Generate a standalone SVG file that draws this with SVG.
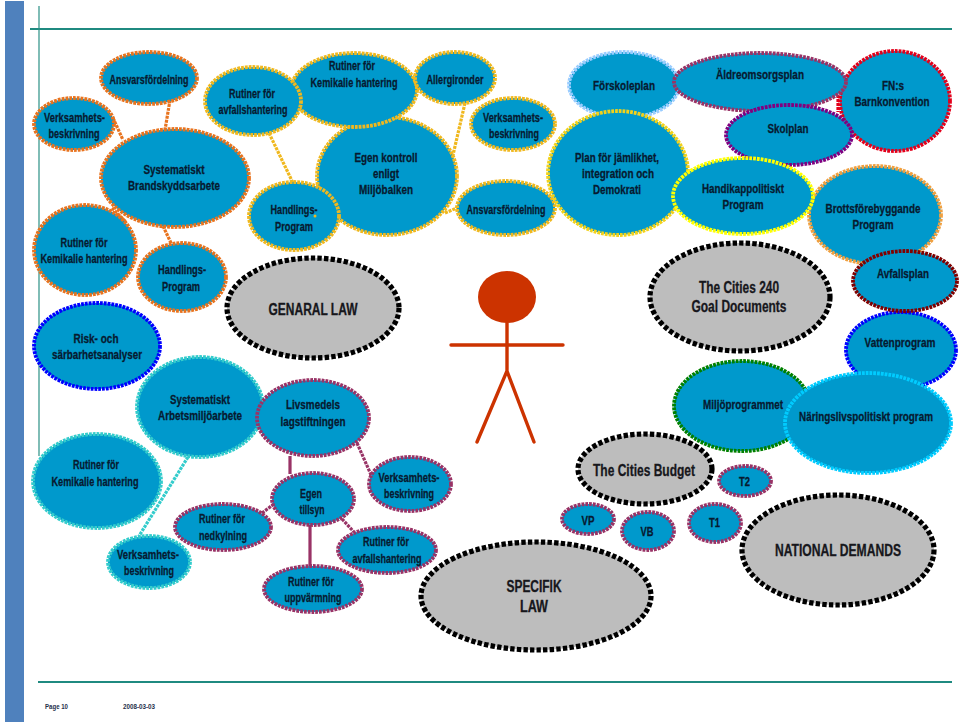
<svg xmlns="http://www.w3.org/2000/svg" width="960" height="724" viewBox="0 0 960 724">
<style>
text{font-family:"Liberation Sans",Arial,sans-serif;font-weight:bold;font-size:13px;fill:#071a30;text-anchor:middle;stroke:#071a30;stroke-width:.3}
.g text{fill:#17171c;stroke:#17171c;font-size:16px}
ellipse{fill:#0099cc;stroke-width:3.8;stroke-dasharray:2.8 1}
.or ellipse{stroke:#e8731e}.ye ellipse{stroke:#f0b81e}.te ellipse{stroke:#33cccc}.pu ellipse{stroke:#993366}
.g ellipse{fill:#bdbdbd;stroke:#000;stroke-width:5.2;stroke-dasharray:4.4 2.2}
#connectors line{stroke-width:3.2;stroke-dasharray:3 1}
.man{stroke:#cc3300;stroke-width:3.4;fill:none;stroke-linecap:round}
text.ft{font-size:6.5px;fill:#26304a;stroke:none}
</style>
<rect x="5" y="1" width="19" height="721" fill="#4f81bd"/>
<path d="M30 29H952M38 682H952" stroke="#1f8a80" stroke-width="2.2" fill="none"/>
<path d="M39 6V456" stroke="#2a9085" stroke-width="1.2" fill="none"/>
<g id="connectors">
<g stroke="#e8731e"><line x1="170" y1="100" x2="165" y2="130"/><line x1="113" y1="118" x2="123" y2="140"/><line x1="163" y1="226" x2="172" y2="245"/><line x1="112" y1="208" x2="126" y2="222"/></g>
<g stroke="#f0b81e"><line x1="269" y1="133" x2="293" y2="183"/><line x1="465" y1="103" x2="453" y2="155"/><line x1="445" y1="213" x2="459" y2="207"/></g>
<g stroke="#33cccc"><line x1="188" y1="457" x2="139" y2="536"/></g>
<g stroke="#993366"><line x1="290" y1="456" x2="290" y2="474" style="stroke-dasharray:none"/><line x1="357" y1="443" x2="372" y2="477"/><line x1="262" y1="513" x2="274" y2="504"/><line x1="342" y1="519" x2="354" y2="532"/><line x1="310" y1="525" x2="310" y2="567" style="stroke-dasharray:none"/></g>
<g stroke="#e3001b"><line x1="838" y1="95" x2="838" y2="112"/></g>
</g>
<g id="stickman" class="man"><ellipse cx="507" cy="297" rx="29" ry="26" style="fill:#cc3300;stroke:none"/><path d="M451 345H563M507 323V371L477 442M507 371L534 442"/></g>

<g class="or">
<g id="n-rutiner-kem1"><ellipse cx="85" cy="250" rx="51" ry="45"/><text x="84" y="247" textLength="47" lengthAdjust="spacingAndGlyphs">Rutiner för</text><text x="84" y="263" textLength="87" lengthAdjust="spacingAndGlyphs">Kemikalie hantering</text></g>
<g id="n-handl1"><ellipse cx="182" cy="277" rx="44" ry="34"/><text x="182" y="274" textLength="48" lengthAdjust="spacingAndGlyphs">Handlings-</text><text x="181" y="291" textLength="38" lengthAdjust="spacingAndGlyphs">Program</text></g>
<g id="n-ansvar1"><ellipse cx="149" cy="78" rx="48" ry="26"/><text x="149" y="84" textLength="79" lengthAdjust="spacingAndGlyphs">Ansvarsfördelning</text></g>
<g id="n-verks1"><ellipse cx="74" cy="124" rx="40" ry="26"/><text x="74.500" y="122" textLength="61" lengthAdjust="spacingAndGlyphs">Verksamhets-</text><text x="74" y="138" textLength="51" lengthAdjust="spacingAndGlyphs">beskrivning</text></g>
<g id="n-brand"><ellipse cx="175" cy="178" rx="74" ry="49"/><text x="174" y="174" textLength="61" lengthAdjust="spacingAndGlyphs">Systematiskt</text><text x="174" y="190" textLength="92" lengthAdjust="spacingAndGlyphs">Brandskyddsarbete</text></g>
</g>
<g class="ye">
<g id="n-egen"><ellipse cx="387" cy="176" rx="70" ry="59"/><text x="386" y="162" textLength="63" lengthAdjust="spacingAndGlyphs">Egen kontroll</text><text x="386" y="178" textLength="26" lengthAdjust="spacingAndGlyphs">enligt</text><text x="386" y="194" textLength="54" lengthAdjust="spacingAndGlyphs">Miljöbalken</text></g>
<g id="n-kem2"><ellipse cx="354" cy="90" rx="63" ry="37"/><text x="352" y="70" textLength="46" lengthAdjust="spacingAndGlyphs">Rutiner för</text><text x="354" y="87" textLength="87" lengthAdjust="spacingAndGlyphs">Kemikalie hantering</text></g>
<g id="n-avf2"><ellipse cx="253" cy="101" rx="48" ry="34"/><text x="252" y="98" textLength="46" lengthAdjust="spacingAndGlyphs">Rutiner för</text><text x="253" y="114" textLength="69" lengthAdjust="spacingAndGlyphs">avfallshantering</text></g>
<g id="n-allergi"><ellipse cx="455" cy="78" rx="40" ry="26"/><text x="455" y="84" textLength="57" lengthAdjust="spacingAndGlyphs">Allergironder</text></g>
<g id="n-handl2"><ellipse cx="294" cy="216" rx="45" ry="34"/><text x="294" y="214" textLength="47" lengthAdjust="spacingAndGlyphs">Handlings-</text><text x="294" y="231" textLength="38" lengthAdjust="spacingAndGlyphs">Program</text><circle cx="315" cy="216" r="1.500" fill="#f0b81e"/></g>
<g id="n-verks2"><ellipse cx="513" cy="124" rx="42" ry="26"/><text x="513" y="122" textLength="60" lengthAdjust="spacingAndGlyphs">Verksamhets-</text><text x="514" y="138" textLength="50" lengthAdjust="spacingAndGlyphs">beskrivning</text></g>
<g id="n-ansvar2"><ellipse cx="506" cy="208" rx="49" ry="27"/><text x="506" y="214" textLength="79" lengthAdjust="spacingAndGlyphs">Ansvarsfördelning</text></g>
</g>
<g id="n-fn"><ellipse cx="895" cy="101" rx="55" ry="50" stroke="#e3001b"/><text x="893" y="90" textLength="22" lengthAdjust="spacingAndGlyphs">FN:s</text><text x="892" y="106" textLength="75" lengthAdjust="spacingAndGlyphs">Barnkonvention</text></g>
<g id="n-forskola"><ellipse cx="624" cy="85" rx="55" ry="33" stroke="#99ccff"/><text x="624" y="90" textLength="62" lengthAdjust="spacingAndGlyphs">Förskoleplan</text></g>
<g id="n-aldre"><ellipse cx="760" cy="82" rx="86" ry="29" stroke="#993366"/><text x="760" y="79" textLength="88" lengthAdjust="spacingAndGlyphs">Äldreomsorgsplan</text></g>
<g id="n-skol"><ellipse cx="789" cy="135" rx="63" ry="30" stroke="#800080"/><text x="788" y="133" textLength="41" lengthAdjust="spacingAndGlyphs">Skolplan</text></g>
<g id="n-plan"><ellipse cx="618" cy="173" rx="70" ry="62" stroke="#f2d21a"/><text x="617" y="162" textLength="84" lengthAdjust="spacingAndGlyphs">Plan för jämlikhet,</text><text x="618" y="178" textLength="72" lengthAdjust="spacingAndGlyphs">integration och</text><text x="617" y="194" textLength="48" lengthAdjust="spacingAndGlyphs">Demokrati</text></g>
<g id="n-brott"><ellipse cx="875" cy="215" rx="66" ry="49" stroke="#f0a040"/><text x="873" y="213" textLength="95" lengthAdjust="spacingAndGlyphs">Brottsförebyggande</text><text x="873" y="229" textLength="41" lengthAdjust="spacingAndGlyphs">Program</text></g>
<g id="n-handik"><ellipse cx="743" cy="196" rx="70" ry="38" stroke="#ffff00"/><text x="743" y="193" textLength="82" lengthAdjust="spacingAndGlyphs">Handikappolitiskt</text><text x="743" y="209" textLength="41" lengthAdjust="spacingAndGlyphs">Program</text></g>
<g id="n-vatten"><ellipse cx="901" cy="350" rx="55" ry="38" stroke="#0000ff"/><text x="900" y="347" textLength="71" lengthAdjust="spacingAndGlyphs">Vattenprogram</text></g>
<g id="n-avfall"><ellipse cx="905" cy="281" rx="52" ry="30" stroke="#800000"/><text x="903" y="278" textLength="52" lengthAdjust="spacingAndGlyphs">Avfallsplan</text></g>
<g id="n-miljo"><ellipse cx="742" cy="406" rx="68" ry="45" stroke="#008000"/><text x="743" y="409" textLength="80" lengthAdjust="spacingAndGlyphs">Miljöprogrammet</text></g>
<g id="n-naring"><ellipse cx="868" cy="423" rx="83" ry="50" stroke="#00ccff"/><text x="866" y="421" textLength="134" lengthAdjust="spacingAndGlyphs">Näringslivspolitiskt program</text></g>
<g id="n-risk"><ellipse cx="97" cy="346" rx="63" ry="43" stroke="#0000ff"/><text x="96" y="343" textLength="45" lengthAdjust="spacingAndGlyphs">Risk- och</text><text x="97" y="359" textLength="90" lengthAdjust="spacingAndGlyphs">särbarhetsanalyser</text></g>
<g class="te">
<g id="n-arbete"><ellipse cx="200" cy="407" rx="63" ry="50"/><text x="200" y="404" textLength="60" lengthAdjust="spacingAndGlyphs">Systematiskt</text><text x="200" y="420" textLength="84" lengthAdjust="spacingAndGlyphs">Arbetsmiljöarbete</text></g>
<g id="n-kem3"><ellipse cx="97" cy="481" rx="64" ry="47"/><text x="96" y="469" textLength="46" lengthAdjust="spacingAndGlyphs">Rutiner för</text><text x="95" y="486" textLength="87" lengthAdjust="spacingAndGlyphs">Kemikalie hantering</text></g>
<g id="n-verks3"><ellipse cx="149" cy="562" rx="41" ry="26"/><text x="148" y="559" textLength="62" lengthAdjust="spacingAndGlyphs">Verksamhets-</text><text x="149" y="575" textLength="50" lengthAdjust="spacingAndGlyphs">beskrivning</text></g>
</g>
<g class="pu">
<g id="n-livs"><ellipse cx="313" cy="418" rx="56" ry="38"/><text x="313" y="409" textLength="54" lengthAdjust="spacingAndGlyphs">Livsmedels</text><text x="313" y="426" textLength="65" lengthAdjust="spacingAndGlyphs">lagstiftningen</text></g>
<g id="n-tillsyn"><ellipse cx="313" cy="499" rx="41" ry="26"/><text x="311" y="498" textLength="22" lengthAdjust="spacingAndGlyphs">Egen</text><text x="312" y="514" textLength="25" lengthAdjust="spacingAndGlyphs">tillsyn</text></g>
<g id="n-ned"><ellipse cx="223" cy="527" rx="48" ry="23"/><text x="222" y="523" textLength="46" lengthAdjust="spacingAndGlyphs">Rutiner för</text><text x="223" y="540" textLength="48" lengthAdjust="spacingAndGlyphs">nedkylning</text></g>
<g id="n-verks4"><ellipse cx="410" cy="484" rx="41" ry="27"/><text x="409" y="482" textLength="61" lengthAdjust="spacingAndGlyphs">Verksamhets-</text><text x="409" y="498" textLength="50" lengthAdjust="spacingAndGlyphs">beskrivning</text></g>
<g id="n-avf4"><ellipse cx="387" cy="550" rx="49" ry="23"/><text x="386" y="546" textLength="46" lengthAdjust="spacingAndGlyphs">Rutiner för</text><text x="387" y="563" textLength="69" lengthAdjust="spacingAndGlyphs">avfallshantering</text></g>
<g id="n-uppv"><ellipse cx="313" cy="589" rx="49" ry="23"/><text x="311" y="586" textLength="46" lengthAdjust="spacingAndGlyphs">Rutiner för</text><text x="313" y="602" textLength="57" lengthAdjust="spacingAndGlyphs">uppvärmning</text></g>
<g id="n-t2"><ellipse cx="745" cy="481" rx="26" ry="15"/><text x="744.500" y="486" textLength="11" lengthAdjust="spacingAndGlyphs">T2</text></g>
<g id="n-vp"><ellipse cx="588" cy="519" rx="26" ry="15"/><text x="588" y="525" textLength="13" lengthAdjust="spacingAndGlyphs">VP</text></g>
<g id="n-vb"><ellipse cx="648" cy="531" rx="26" ry="19"/><text x="647" y="536" textLength="13" lengthAdjust="spacingAndGlyphs">VB</text></g>
<g id="n-t1"><ellipse cx="715" cy="523" rx="26" ry="19"/><text x="714.500" y="527" textLength="11" lengthAdjust="spacingAndGlyphs">T1</text></g>
</g>
<g class="g">
<g id="n-general"><ellipse cx="313" cy="308" rx="86" ry="50"/><text x="313" y="315" textLength="89" lengthAdjust="spacingAndGlyphs">GENARAL LAW</text></g>
<g id="n-240"><ellipse cx="740" cy="297" rx="90" ry="54"/><text x="739" y="293" textLength="80" lengthAdjust="spacingAndGlyphs">The Cities 240</text><text x="739" y="312" textLength="95" lengthAdjust="spacingAndGlyphs">Goal Documents</text></g>
<g id="n-budget"><ellipse cx="645" cy="469" rx="67" ry="35"/><text x="644" y="476" textLength="102" lengthAdjust="spacingAndGlyphs">The Cities Budget</text></g>
<g id="n-national"><ellipse cx="838" cy="550" rx="96" ry="55"/><text x="838" y="556" textLength="126" lengthAdjust="spacingAndGlyphs">NATIONAL DEMANDS</text></g>
<g id="n-specifik"><ellipse cx="536" cy="596" rx="115" ry="54"/><text x="534" y="592" textLength="55" lengthAdjust="spacingAndGlyphs">SPECIFIK</text><text x="534" y="612" textLength="28" lengthAdjust="spacingAndGlyphs">LAW</text></g>
</g>
<text class="ft" x="56.500" y="709" textLength="23" lengthAdjust="spacingAndGlyphs">Page 10</text>
<text class="ft" x="139" y="709" textLength="32" lengthAdjust="spacingAndGlyphs">2008-03-03</text>
</svg>
